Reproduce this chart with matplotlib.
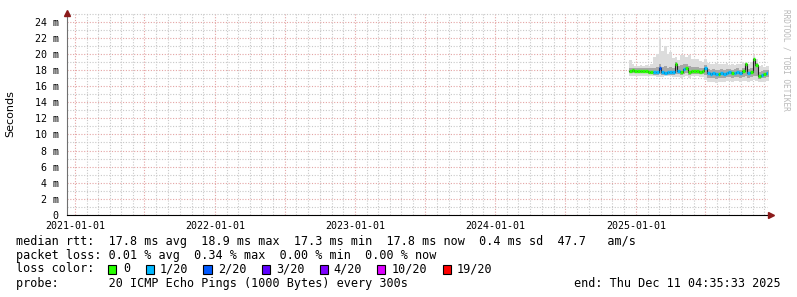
import numpy as np
import pandas as pd
import matplotlib
matplotlib.use("Agg")
import matplotlib.pyplot as plt
import matplotlib.dates as mdates
from matplotlib.patches import Rectangle
from matplotlib.ticker import MultipleLocator, FuncFormatter

# weekly samples, 2024-12-14 .. 2025-12-07
dates = pd.date_range("2024-12-14", periods=53, freq="7D")

median = [17.90, 17.95, 17.90, 17.85, 17.90, 17.90, 17.85, 17.80, 17.75, 17.70,
          17.80, 18.20, 17.70, 17.65, 17.70, 17.70, 17.75, 18.70, 17.90, 17.80,
          18.10, 18.20, 17.80, 17.90, 17.85, 17.90, 17.80, 17.90, 18.30, 17.60,
          17.55, 17.60, 17.50, 17.55, 17.60, 17.55, 17.60, 17.70, 17.60, 17.65,
          17.75, 17.60, 17.90, 18.70, 17.60, 17.70, 19.30, 18.60, 17.20, 17.40,
          17.50, 17.60, 17.70]
smoke_max = [19.2, 18.7, 18.5, 18.5, 18.6, 18.5, 18.6, 18.5, 18.7, 19.6,
             20.0, 22.0, 20.3, 21.0, 20.0, 20.2, 19.5, 19.6, 19.2, 19.8,
             19.9, 19.6, 19.8, 19.4, 19.3, 19.4, 19.1, 19.0, 19.3, 18.9,
             18.7, 18.8, 18.9, 18.8, 18.7, 18.8, 18.9, 18.6, 18.7, 18.6,
             18.8, 18.7, 18.9, 19.0, 18.7, 19.0, 19.8, 19.4, 18.5, 18.6,
             18.4, 18.5, 18.5]
smoke_hi = [18.3, 18.3, 18.2, 18.2, 18.2, 18.2, 18.2, 18.2, 18.2, 18.3,
            18.4, 18.8, 18.4, 18.5, 18.3, 18.4, 18.3, 19.0, 18.5, 18.6,
            18.7, 18.7, 18.5, 18.4, 18.4, 18.4, 18.3, 18.3, 18.6, 18.1,
            18.0, 18.1, 18.0, 18.0, 18.1, 18.0, 18.1, 18.1, 18.0, 18.1,
            18.2, 18.0, 18.3, 18.9, 18.1, 18.2, 19.5, 18.9, 17.8, 17.9,
            18.0, 18.0, 18.1]
smoke_lo = [17.6, 17.6, 17.6, 17.6, 17.6, 17.6, 17.6, 17.5, 17.5, 17.4,
            17.4, 17.5, 17.4, 17.4, 17.4, 17.4, 17.4, 17.5, 17.5, 17.4,
            17.5, 17.6, 17.4, 17.5, 17.5, 17.5, 17.5, 17.5, 17.4, 17.0,
            17.0, 17.0, 16.9, 17.0, 17.0, 17.0, 17.1, 17.1, 17.0, 17.1,
            17.1, 17.0, 17.1, 17.2, 17.0, 17.1, 17.3, 17.2, 16.9, 17.0,
            17.0, 17.1, 17.2]
smoke_min = [17.3, 17.3, 17.3, 17.3, 17.3, 17.3, 17.3, 17.2, 17.2, 17.2,
             17.1, 17.1, 17.1, 17.2, 17.2, 17.2, 17.1, 17.1, 17.1, 17.0,
             17.1, 17.2, 17.0, 17.2, 17.2, 17.2, 17.1, 17.1, 16.8, 16.5,
             16.5, 16.5, 16.4, 16.5, 16.5, 16.5, 16.6, 16.6, 16.5, 16.6,
             16.6, 16.5, 16.6, 16.6, 16.5, 16.6, 16.7, 16.6, 16.5, 16.5,
             16.5, 16.6, 16.7]
# lost pings out of 20
loss = [0, 0, 0, 0, 0, 0, 0, 0, 0, 1,
        1, 2, 1, 1, 1, 1, 1, 0, 1, 0,
        1, 0, 0, 0, 0, 0, 0, 0, 1, 1,
        1, 1, 1, 0, 1, 1, 1, 1, 0, 1,
        1, 1, 0, 0, 1, 0, 0, 0, 0, 1,
        0, 1, 0]

loss_bins = [0, 1, 2, 3, 4, 10, 19]
loss_labels = ["0", "1/20", "2/20", "3/20", "4/20", "10/20", "19/20"]
loss_colors = ["#26ff00", "#00b8ff", "#0059ff", "#5e00ff", "#7e00ff", "#dd00ff", "#ff0000"]

W, H = 797, 297
fig = plt.figure(figsize=(W / 100, H / 100), dpi=100)
ax = fig.add_axes([67 / W, 1 - 215 / H, (768 - 67) / W, (215 - 13) / H])

edges = list(dates) + [dates[-1] + pd.Timedelta(days=7)]
def ext(a):
    return list(a) + [a[-1]]

ax.fill_between(edges, ext(smoke_min), ext(smoke_max), step="post", color="#dcdcdc", lw=0, zorder=2)
ax.fill_between(edges, ext(smoke_lo), ext(smoke_hi), step="post", color="#a8a8a8", lw=0, zorder=3)
ax.step(edges, ext(median), where="post", color="#202020", lw=0.8, zorder=4)

med = np.array(median)
lo = np.array(loss)
x0 = np.array(edges[:-1])
x1 = np.array(edges[1:])
for b, c in zip(loss_bins, loss_colors):
    m = lo == b
    if m.any():
        ax.hlines(med[m], x0[m], x1[m], color=c, lw=2.4, zorder=5)

ax.set_xlim(pd.Timestamp("2020-12-11 04:35"), pd.Timestamp("2025-12-11 04:35"))
ax.set_ylim(0, 25.07)

# grid
ax.xaxis.set_major_locator(mdates.MonthLocator(bymonth=[1, 7]))
ax.xaxis.set_minor_locator(mdates.MonthLocator())
ax.xaxis.set_major_formatter(FuncFormatter(
    lambda v, p: mdates.num2date(v).strftime("%Y-%m-%d") if mdates.num2date(v).month == 1 else ""))
ax.yaxis.set_major_locator(MultipleLocator(2))
ax.yaxis.set_minor_locator(MultipleLocator(1))
ax.yaxis.set_major_formatter(FuncFormatter(lambda v, p: "%d m" % v if v > 0 else "0"))
ax.grid(True, which="minor", color="#c8c8c8", lw=0.8, ls=(0, (1, 1.5)), zorder=0)
ax.grid(True, which="major", color="#e4a4a4", lw=0.8, ls=(0, (1, 1.5)), zorder=1)
ax.set_axisbelow(True)

mono = "DejaVu Sans Mono"
ax.tick_params(which="both", length=0, labelsize=7.2, colors="black")
ax.tick_params(axis="x", pad=4.5)
ax.tick_params(axis="y", pad=6)
for lab in ax.get_xticklabels() + ax.get_yticklabels():
    lab.set_family(mono)
ax.set_ylabel("Seconds", fontsize=8, labelpad=14)

for s in ["top", "right"]:
    ax.spines[s].set_visible(False)
ax.spines["left"].set_color("#707070")
ax.spines["bottom"].set_color("black")
ax.plot([0], [1.0], marker="^", color="#8b1a1a", ms=4, transform=ax.transAxes, clip_on=False, zorder=10)
ax.plot([1.004], [0], marker=">", color="#8b1a1a", ms=4, transform=ax.transAxes, clip_on=False, zorder=10)

def ftext(x, y, s, **kw):
    fig.text(x / W, 1 - y / H, s, family=mono, fontsize=8.5, va="center", **kw)

fig.text(786 / W, 1 - 60 / H, "RRDTOOL / TOBI OETIKER", rotation=270, family=mono,
         fontsize=5.6, color="#b8b8b8", ha="center", va="center")

ftext(16, 241.5, "median rtt:  17.8 ms avg  18.9 ms max  17.3 ms min  17.8 ms now  0.4 ms sd  47.7   am/s")
ftext(16, 255, "packet loss: 0.01 % avg  0.34 % max  0.00 % min  0.00 % now")
ftext(16, 269, "loss color:")
box_x = [108, 145.5, 203.5, 261.5, 320, 377, 443]
text_x = [123, 160, 218, 276, 333.5, 392, 457]
for bx, tx, lab, c in zip(box_x, text_x, loss_labels, loss_colors):
    fig.add_artist(Rectangle((bx / W, 1 - 273.5 / H), 8 / W, 8.5 / H, transform=fig.transFigure,
                             facecolor=c, edgecolor="black", lw=0.8))
    ftext(tx, 269, lab)
ftext(16, 283.5, "probe:       20 ICMP Echo Pings (1000 Bytes) every 300s")
ftext(781, 283.5, "end: Thu Dec 11 04:35:33 2025", ha="right")

fig.savefig("out.png", dpi=100, facecolor="white")
